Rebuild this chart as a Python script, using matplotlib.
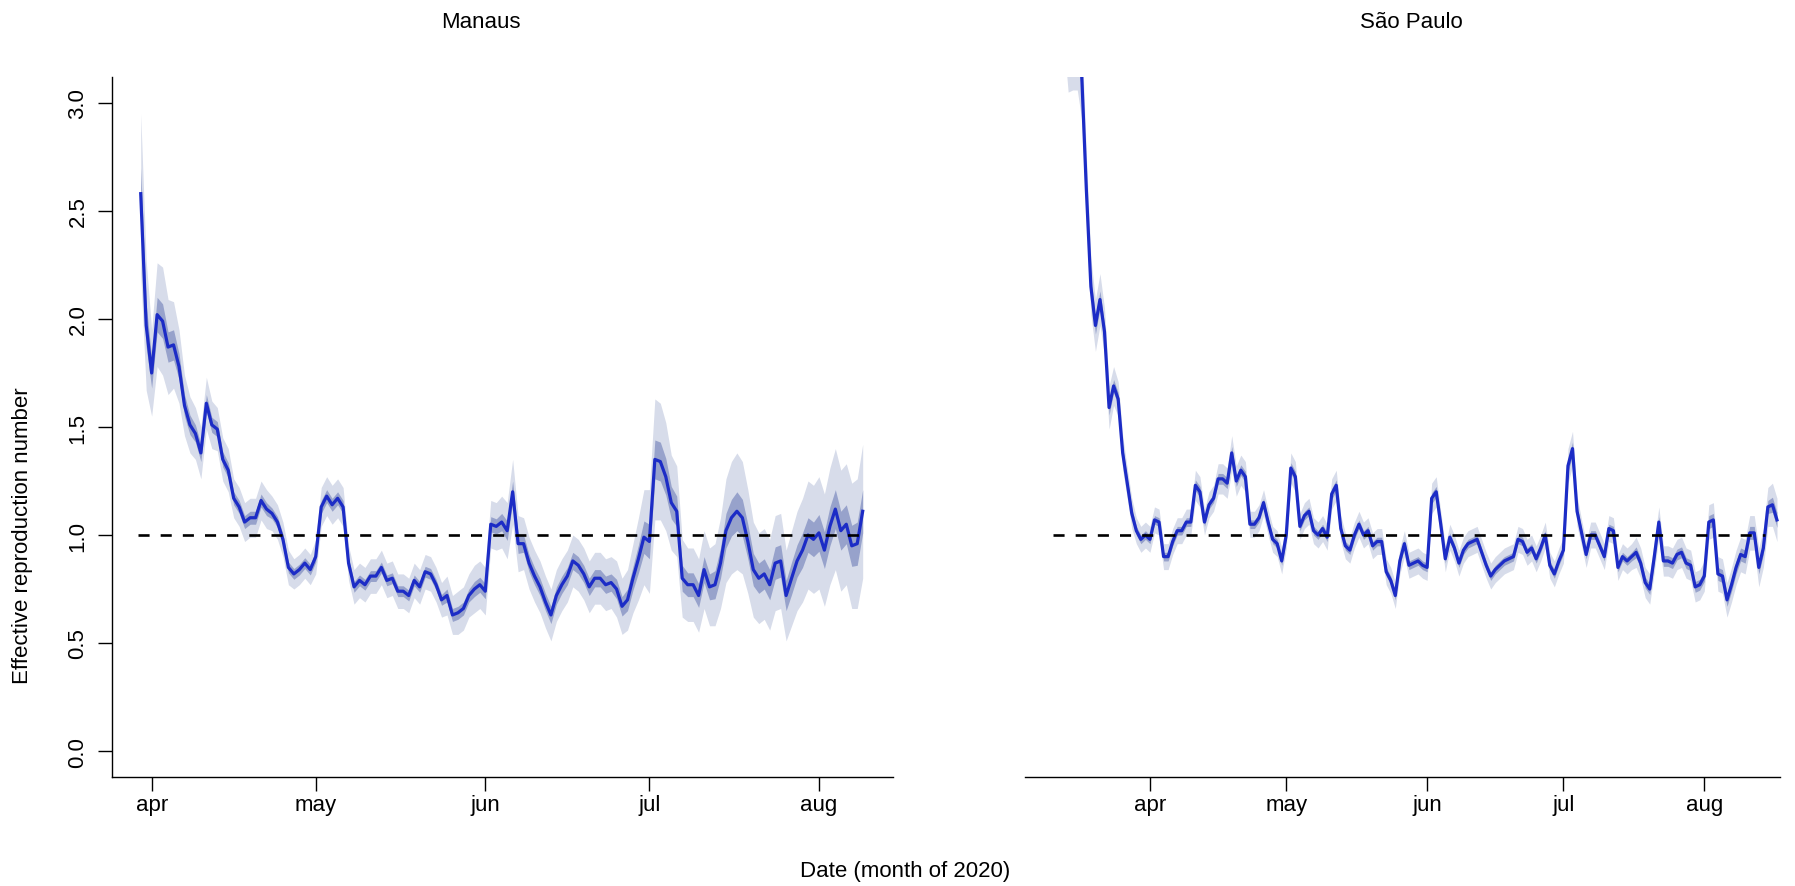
import numpy as np
import pandas as pd
import matplotlib
matplotlib.use('Agg')
import matplotlib.pyplot as plt

plt.rcParams['font.family'] = ['Liberation Sans', 'DejaVu Sans']

# ---- data (daily Rt, median + two credible bands) ----
manaus_start = '2020-03-30'
manaus_r = [2.58, 1.97, 1.75, 2.02, 1.99, 1.87, 1.88, 1.78, 1.60, 1.51,
            1.47, 1.38, 1.61, 1.51, 1.49, 1.35, 1.30, 1.17, 1.13, 1.06,
            1.08, 1.08, 1.16, 1.12, 1.10, 1.06, 0.98, 0.85, 0.82, 0.84,
            0.87, 0.84, 0.90, 1.13, 1.18, 1.14, 1.17, 1.13, 0.87, 0.76,
            0.79, 0.77, 0.81, 0.81, 0.85, 0.79, 0.80, 0.74, 0.74, 0.72,
            0.79, 0.76, 0.83, 0.82, 0.77, 0.70, 0.72, 0.63, 0.64, 0.66,
            0.72, 0.75, 0.77, 0.74, 1.05, 1.04, 1.06, 1.02, 1.20, 0.96,
            0.96, 0.87, 0.81, 0.76, 0.69, 0.63, 0.72, 0.77, 0.81, 0.88,
            0.86, 0.82, 0.76, 0.80, 0.80, 0.77, 0.78, 0.75, 0.67, 0.70,
            0.80, 0.89, 0.99, 0.97, 1.35, 1.34, 1.27, 1.15, 1.11, 0.80,
            0.77, 0.77, 0.72, 0.84, 0.76, 0.77, 0.87, 1.02, 1.08, 1.11,
            1.08, 0.97, 0.84, 0.80, 0.82, 0.77, 0.87, 0.88, 0.72, 0.80,
            0.88, 0.93, 1.00, 0.98, 1.01, 0.93, 1.04, 1.12, 1.02, 1.05,
            0.95, 0.96, 1.11]
manaus_outer = [0.37, 0.30, 0.20, 0.24, 0.25, 0.22, 0.20, 0.17, 0.14, 0.13,
                0.12, 0.12, 0.12, 0.11, 0.10, 0.10, 0.10, 0.09, 0.09, 0.09,
                0.09, 0.09, 0.09, 0.09, 0.08, 0.08, 0.08, 0.08, 0.07, 0.07,
                0.07, 0.07, 0.08, 0.09, 0.09, 0.09, 0.09, 0.09, 0.08, 0.08,
                0.08, 0.08, 0.08, 0.08, 0.08, 0.08, 0.08, 0.08, 0.08, 0.08,
                0.08, 0.08, 0.08, 0.08, 0.08, 0.08, 0.09, 0.09, 0.10, 0.10,
                0.10, 0.11, 0.11, 0.11, 0.11, 0.11, 0.12, 0.13, 0.15, 0.13,
                0.12, 0.12, 0.12, 0.12, 0.12, 0.12, 0.12, 0.12, 0.12, 0.12,
                0.12, 0.12, 0.12, 0.12, 0.12, 0.12, 0.12, 0.13, 0.13, 0.14,
                0.16, 0.19, 0.22, 0.24, 0.28, 0.27, 0.25, 0.22, 0.21, 0.18,
                0.17, 0.17, 0.17, 0.18, 0.18, 0.19, 0.21, 0.24, 0.26, 0.27,
                0.26, 0.24, 0.22, 0.21, 0.21, 0.21, 0.22, 0.22, 0.21, 0.22,
                0.23, 0.24, 0.25, 0.25, 0.26, 0.26, 0.27, 0.28, 0.28, 0.28,
                0.29, 0.30, 0.31]
manaus_inner = [0.12, 0.10, 0.07, 0.08, 0.08, 0.07, 0.07, 0.06, 0.05, 0.045,
                0.04, 0.04, 0.04, 0.035, 0.035, 0.035, 0.035, 0.03, 0.03, 0.03,
                0.03, 0.03, 0.03, 0.03, 0.025, 0.025, 0.025, 0.025, 0.025, 0.025,
                0.025, 0.025, 0.025, 0.03, 0.03, 0.03, 0.03, 0.03, 0.025, 0.025,
                0.025, 0.025, 0.025, 0.025, 0.025, 0.025, 0.025, 0.025, 0.025, 0.025,
                0.025, 0.025, 0.025, 0.025, 0.025, 0.025, 0.03, 0.03, 0.03, 0.03,
                0.03, 0.035, 0.035, 0.035, 0.035, 0.035, 0.04, 0.045, 0.05, 0.045,
                0.04, 0.04, 0.04, 0.04, 0.04, 0.04, 0.04, 0.04, 0.04, 0.04,
                0.04, 0.04, 0.04, 0.04, 0.04, 0.04, 0.04, 0.045, 0.045, 0.05,
                0.055, 0.065, 0.075, 0.08, 0.09, 0.09, 0.085, 0.075, 0.07, 0.06,
                0.055, 0.055, 0.055, 0.06, 0.06, 0.065, 0.07, 0.08, 0.085, 0.09,
                0.085, 0.08, 0.075, 0.07, 0.07, 0.07, 0.075, 0.075, 0.07, 0.075,
                0.075, 0.08, 0.08, 0.08, 0.085, 0.085, 0.09, 0.09, 0.09, 0.09,
                0.095, 0.10, 0.10]

saopaulo_start = '2020-03-11'
saopaulo_r = [4.40, 3.90, 3.60, 3.35, 3.28, 3.30, 3.12, 2.60, 2.15, 1.97,
              2.09, 1.94, 1.59, 1.69, 1.63, 1.38, 1.24, 1.10, 1.02, 0.98,
              1.00, 0.98, 1.07, 1.06, 0.90, 0.90, 0.97, 1.02, 1.02, 1.06,
              1.06, 1.23, 1.20, 1.06, 1.14, 1.17, 1.26, 1.26, 1.24, 1.38,
              1.25, 1.30, 1.27, 1.05, 1.05, 1.08, 1.15, 1.06, 0.98, 0.96,
              0.88, 1.00, 1.31, 1.27, 1.04, 1.09, 1.11, 1.02, 1.00, 1.03,
              0.99, 1.19, 1.23, 1.03, 0.95, 0.93, 1.00, 1.05, 1.00, 1.02,
              0.95, 0.97, 0.97, 0.83, 0.79, 0.72, 0.88, 0.96, 0.86, 0.87,
              0.88, 0.86, 0.85, 1.17, 1.20, 1.05, 0.89, 0.99, 0.94, 0.87,
              0.93, 0.96, 0.97, 0.98, 0.92, 0.86, 0.81, 0.84, 0.86, 0.88,
              0.89, 0.90, 0.98, 0.97, 0.92, 0.94, 0.89, 0.94, 1.00, 0.86,
              0.82, 0.88, 0.93, 1.32, 1.40, 1.11, 1.01, 0.91, 1.00, 1.00,
              0.95, 0.90, 1.03, 1.02, 0.85, 0.90, 0.88, 0.90, 0.92, 0.87,
              0.78, 0.75, 0.90, 1.06, 0.88, 0.88, 0.87, 0.91, 0.92, 0.87,
              0.86, 0.76, 0.77, 0.81, 1.06, 1.07, 0.82, 0.81, 0.70, 0.77,
              0.85, 0.91, 0.90, 1.01, 1.01, 0.85, 0.94, 1.13, 1.14, 1.07]
saopaulo_outer = [0.30, 0.30, 0.30, 0.30, 0.22, 0.24, 0.20, 0.16, 0.13, 0.12,
                  0.12, 0.11, 0.10, 0.09, 0.08, 0.08, 0.07, 0.07, 0.06, 0.06,
                  0.06, 0.06, 0.06, 0.06, 0.06, 0.06, 0.06, 0.06, 0.06, 0.06,
                  0.06, 0.07, 0.07, 0.06, 0.06, 0.06, 0.07, 0.07, 0.07, 0.08,
                  0.07, 0.07, 0.07, 0.06, 0.06, 0.06, 0.06, 0.06, 0.06, 0.06,
                  0.06, 0.06, 0.07, 0.07, 0.06, 0.06, 0.06, 0.06, 0.06, 0.06,
                  0.06, 0.07, 0.07, 0.06, 0.06, 0.06, 0.06, 0.06, 0.06, 0.06,
                  0.06, 0.06, 0.06, 0.06, 0.06, 0.06, 0.06, 0.06, 0.06, 0.06,
                  0.06, 0.06, 0.06, 0.07, 0.07, 0.06, 0.06, 0.06, 0.06, 0.06,
                  0.06, 0.06, 0.06, 0.06, 0.06, 0.06, 0.06, 0.06, 0.06, 0.06,
                  0.06, 0.06, 0.06, 0.06, 0.06, 0.06, 0.06, 0.06, 0.06, 0.06,
                  0.06, 0.06, 0.06, 0.08, 0.08, 0.07, 0.06, 0.06, 0.06, 0.06,
                  0.06, 0.06, 0.06, 0.06, 0.06, 0.06, 0.06, 0.06, 0.07, 0.07,
                  0.07, 0.07, 0.07, 0.07, 0.07, 0.07, 0.07, 0.07, 0.07, 0.07,
                  0.07, 0.07, 0.07, 0.07, 0.08, 0.08, 0.08, 0.08, 0.08, 0.08,
                  0.08, 0.08, 0.08, 0.08, 0.08, 0.09, 0.09, 0.09, 0.10, 0.10]
saopaulo_inner = [0.10, 0.10, 0.10, 0.10, 0.07, 0.08, 0.07, 0.05, 0.045, 0.04,
                  0.04, 0.035, 0.035, 0.03, 0.03, 0.03, 0.025, 0.025, 0.02, 0.02,
                  0.02, 0.02, 0.02, 0.02, 0.02, 0.02, 0.02, 0.02, 0.02, 0.02,
                  0.02, 0.025, 0.025, 0.02, 0.02, 0.02, 0.025, 0.025, 0.025, 0.03,
                  0.025, 0.025, 0.025, 0.02, 0.02, 0.02, 0.02, 0.02, 0.02, 0.02,
                  0.02, 0.02, 0.025, 0.025, 0.02, 0.02, 0.02, 0.02, 0.02, 0.02,
                  0.02, 0.025, 0.025, 0.02, 0.02, 0.02, 0.02, 0.02, 0.02, 0.02,
                  0.02, 0.02, 0.02, 0.02, 0.02, 0.02, 0.02, 0.02, 0.02, 0.02,
                  0.02, 0.02, 0.02, 0.025, 0.025, 0.02, 0.02, 0.02, 0.02, 0.02,
                  0.02, 0.02, 0.02, 0.02, 0.02, 0.02, 0.02, 0.02, 0.02, 0.02,
                  0.02, 0.02, 0.02, 0.02, 0.02, 0.02, 0.02, 0.02, 0.02, 0.02,
                  0.02, 0.02, 0.02, 0.03, 0.03, 0.025, 0.02, 0.02, 0.02, 0.02,
                  0.02, 0.02, 0.02, 0.02, 0.02, 0.02, 0.02, 0.02, 0.025, 0.025,
                  0.025, 0.025, 0.025, 0.025, 0.025, 0.025, 0.025, 0.025, 0.025, 0.025,
                  0.025, 0.025, 0.025, 0.025, 0.03, 0.03, 0.03, 0.03, 0.03, 0.03,
                  0.03, 0.03, 0.03, 0.03, 0.03, 0.03, 0.03, 0.03, 0.035, 0.035]

# x range of each panel and of the dashed Rt = 1 reference, as dates
manaus_xlim = ('2020-03-24 18:00', '2020-08-14 13:00')
saopaulo_xlim = ('2020-03-04 12:00', '2020-08-17 16:00')
manaus_ref = ('2020-03-29 12:00', '2020-08-09 06:00')
saopaulo_ref = ('2020-03-10 16:00', '2020-08-14 10:00')

month_ticks = ['2020-04-01', '2020-05-01', '2020-06-01', '2020-07-01', '2020-08-01']
month_labels = ['apr', 'may', 'jun', 'jul', 'aug']
y_ticks = [0.0, 0.5, 1.0, 1.5, 2.0, 2.5, 3.0]

LINE = '#1c2cc6'
OUTER = '#d7dcea'
INNER = '#97a2cb'

W, H = 1795, 887
fig = plt.figure(figsize=(W / 100, H / 100), dpi=100)


def px_axes(x0, x1, y0, y1):
    return fig.add_axes([x0 / W, 1 - y1 / H, (x1 - x0) / W, (y1 - y0) / H])


def panel(ax, start, r, outer, inner, xlim, ref):
    r = np.array(r)
    outer = np.array(outer)
    inner = np.array(inner)
    dates = pd.date_range(start, periods=len(r), freq='D')
    ax.fill_between(dates, r - outer, r + outer, color=OUTER, lw=0)
    ax.fill_between(dates, r - inner, r + inner, color=INNER, lw=0)
    ax.plot(dates, r, color=LINE, lw=2.3, solid_joinstyle='round')
    ax.hlines(1.0, pd.Timestamp(ref[0]), pd.Timestamp(ref[1]), colors='black',
              lw=1.9, linestyles=(0, (4.2, 4.2)), zorder=5)
    ax.set_xlim(pd.Timestamp(xlim[0]), pd.Timestamp(xlim[1]))
    ax.set_ylim(-0.12, 3.12)
    ax.set_xticks([pd.Timestamp(t) for t in month_ticks])
    ax.set_xticklabels(month_labels)
    ax.tick_params(axis='both', direction='out', length=10, width=1.0,
                   labelsize=16, colors='black')
    ax.tick_params(axis='x', pad=2)
    for s in ('top', 'right'):
        ax.spines[s].set_visible(False)
    for s in ('left', 'bottom'):
        ax.spines[s].set_linewidth(1.0)


ax1 = px_axes(112, 893, 78, 778)
panel(ax1, manaus_start, manaus_r, manaus_outer, manaus_inner, manaus_xlim, manaus_ref)
ax1.set_yticks(y_ticks)
ax1.set_yticklabels(['%.1f' % v for v in y_ticks], rotation=90, va='center')
ax1.tick_params(axis='y', pad=7)

ax2 = px_axes(1025, 1780, 78, 778)
panel(ax2, saopaulo_start, saopaulo_r, saopaulo_outer, saopaulo_inner, saopaulo_xlim, saopaulo_ref)
ax2.spines['left'].set_visible(False)
ax2.tick_params(axis='y', left=False, labelleft=False)

fig.text(481 / W, 1 - 23 / H, 'Manaus', ha='center', va='center', fontsize=16)
fig.text(1411 / W, 1 - 23 / H, 'São Paulo', ha='center', va='center', fontsize=16)
fig.text(905 / W, 1 - 872 / H, 'Date (month of 2020)', ha='center', va='center', fontsize=16)
fig.text(23 / W, 1 - 536 / H, 'Effective reproduction number', ha='center', va='center',
         rotation=90, fontsize=16)

fig.savefig('out.png', dpi=100)
